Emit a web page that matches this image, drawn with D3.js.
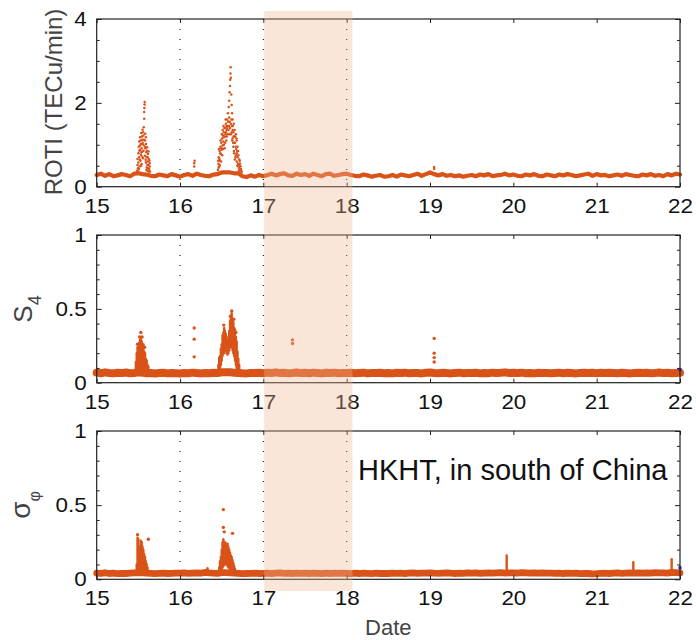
<!DOCTYPE html>
<html>
<head>
<meta charset="utf-8">
<script src="https://cdn.jsdelivr.net/npm/d3@7"></script>
<style>
  body { margin: 0; background: #fff; }
  svg { display: block; }
  text { font-family: "Liberation Sans", Arial, Helvetica, sans-serif; }
</style>
</head>
<body>
<svg id="chart" width="696" height="640"></svg>
<script>
// ---- sampling of the quiet-time baseline (days of the month) ----
const sampleStart = 15;
const sampleStep = 0.05;

// ROTI baseline (TECu/min), one value per sample
const rotiBase = [
  0.28,0.31,0.26,0.30,0.25,0.27,0.30,0.28,0.25,0.31,
  0.32,0.30,0.29,0.26,0.25,0.29,0.27,0.25,0.30,0.27,
  0.24,0.28,0.30,0.26,0.31,0.28,0.26,0.25,0.29,0.30,
  0.34,0.34,0.34,0.32,0.32,0.25,0.23,0.27,0.24,0.28,
  0.25,0.28,0.31,0.27,0.30,0.32,0.27,0.26,0.31,0.28,
  0.30,0.26,0.31,0.28,0.25,0.30,0.31,0.26,0.28,0.30,
  0.31,0.28,0.26,0.25,0.29,0.27,0.24,0.26,0.28,0.24,
  0.25,0.28,0.24,0.29,0.27,0.25,0.28,0.31,0.26,0.30,
  0.34,0.30,0.27,0.30,0.26,0.28,0.25,0.27,0.24,0.26,
  0.28,0.25,0.29,0.27,0.30,0.25,0.27,0.28,0.31,0.27,
  0.29,0.26,0.25,0.29,0.27,0.30,0.26,0.25,0.29,0.27,
  0.25,0.29,0.27,0.30,0.28,0.25,0.27,0.29,0.31,0.26,
  0.30,0.27,0.28,0.25,0.27,0.29,0.26,0.30,0.28,0.26,
  0.25,0.29,0.27,0.30,0.26,0.28,0.25,0.30,0.27,0.31,
  0.29
];

// S4 baseline
const s4Base = [
  .068,.064,.070,.066,.063,.067,.065,.069,.064,.066,
  .070,.068,.064,.066,.062,.065,.067,.063,.066,.064,
  .062,.066,.064,.068,.065,.063,.066,.064,.067,.065,
  .070,.070,.070,.068,.066,.064,.063,.066,.065,.067,
  .064,.068,.066,.070,.065,.067,.064,.066,.069,.065,
  .067,.064,.068,.066,.063,.067,.065,.068,.064,.066,
  .065,.067,.064,.066,.068,.063,.066,.065,.067,.064,
  .066,.063,.067,.065,.068,.064,.066,.065,.063,.067,
  .069,.066,.064,.067,.065,.063,.066,.068,.064,.066,
  .065,.067,.063,.066,.064,.068,.065,.067,.070,.066,
  .067,.065,.068,.064,.066,.063,.067,.065,.066,.064,
  .066,.068,.064,.067,.065,.063,.066,.068,.065,.067,
  .064,.067,.065,.068,.066,.064,.067,.065,.063,.066,
  .068,.065,.067,.064,.066,.069,.065,.067,.064,.066,
  .068
];

// sigma-phi baseline
const sigmaBase = [
  .042,.040,.044,.039,.041,.038,.040,.039,.041,.043,
  .045,.044,.042,.040,.038,.040,.041,.039,.040,.042,
  .041,.043,.040,.042,.044,.041,.046,.043,.041,.040,
  .045,.045,.044,.042,.040,.038,.039,.040,.041,.039,
  .040,.042,.039,.041,.043,.040,.041,.039,.042,.040,
  .041,.039,.042,.040,.038,.041,.039,.042,.040,.041,
  .040,.038,.041,.039,.042,.040,.038,.041,.039,.040,
  .039,.041,.040,.042,.039,.041,.043,.040,.042,.041,
  .043,.041,.040,.042,.044,.041,.039,.042,.040,.043,
  .041,.043,.040,.042,.044,.041,.043,.045,.042,.044,
  .044,.042,.045,.043,.041,.044,.042,.043,.041,.042,
  .040,.042,.039,.041,.040,.042,.038,.040,.039,.037,
  .038,.040,.042,.039,.041,.043,.040,.042,.044,.041,
  .043,.041,.044,.042,.045,.043,.044,.042,.046,.045,
  .044
];

// ROTI scintillation bursts: [day, value]
const rotiBurst = [
  // 15th, evening
  [15.485,0.38],[15.49,0.52],[15.49,0.66],[15.495,0.44],[15.50,0.80],[15.50,0.58],
  [15.505,0.95],[15.51,0.70],[15.51,1.08],[15.515,0.48],[15.52,0.88],[15.52,1.18],
  [15.525,0.62],[15.53,1.02],[15.53,0.76],[15.535,1.28],[15.54,0.92],[15.54,0.54],
  [15.545,1.12],[15.55,0.84],[15.55,1.36],[15.555,0.68],[15.56,1.00],[15.56,1.22],
  [15.565,1.42],[15.57,1.62],[15.57,1.78],[15.572,1.88],[15.575,1.96],[15.575,2.02],
  [15.58,1.10],[15.58,0.74],[15.585,0.92],[15.59,1.18],[15.59,0.58],[15.595,0.82],
  [15.60,0.46],[15.60,0.70],[15.605,0.94],[15.61,0.60],[15.61,0.38],[15.615,0.78],
  [15.62,0.52],[15.625,0.66],[15.63,0.42],[15.635,0.56],[15.64,0.36],
  [15.487,0.30],[15.497,0.36],[15.507,0.42],[15.512,0.86],[15.517,0.64],[15.522,0.98],
  [15.527,1.10],[15.532,0.50],[15.537,0.82],[15.542,1.20],[15.547,0.72],[15.552,1.05],
  [15.557,1.30],[15.562,0.86],[15.567,1.12],[15.577,0.96],[15.582,1.26],[15.587,0.64],
  [15.592,1.02],[15.597,0.40],[15.602,0.86],[15.607,0.52],[15.612,0.70],[15.617,0.44],
  [15.622,0.84],[15.627,0.36],[15.632,0.62],[15.637,0.48],
  // 16th, early
  [16.17,0.48],[16.17,0.56],[16.175,0.62],
  // 16th, evening
  [16.455,0.40],[16.46,0.55],[16.465,0.70],[16.47,0.48],[16.475,0.85],[16.48,0.62],
  [16.485,0.95],[16.49,0.78],[16.495,1.05],[16.50,0.88],[16.505,1.15],[16.51,0.98],
  [16.515,1.22],[16.52,1.08],[16.525,1.30],[16.53,1.18],[16.535,0.92],[16.54,1.40],
  [16.545,1.25],[16.55,1.50],[16.555,1.10],[16.56,1.35],[16.565,1.60],[16.57,1.45],
  [16.575,1.75],[16.58,1.55],[16.585,1.90],[16.59,1.65],[16.59,2.05],[16.595,2.25],
  [16.60,2.40],[16.60,1.40],[16.602,2.55],[16.605,2.70],[16.607,2.85],[16.61,2.60],
  [16.61,1.50],[16.615,2.20],[16.62,1.95],[16.62,1.30],[16.625,1.75],[16.63,1.60],
  [16.63,1.15],[16.635,1.45],[16.64,1.30],[16.64,0.95],[16.645,1.50],[16.65,1.20],
  [16.65,0.80],[16.655,1.35],[16.66,1.05],[16.665,0.70],[16.67,1.25],[16.675,0.90],
  [16.68,1.10],[16.68,0.60],[16.685,0.85],[16.69,0.95],[16.695,0.55],[16.70,0.75],
  [16.705,0.45],[16.71,0.65],[16.715,0.40],[16.72,0.55],[16.73,0.42],[16.74,0.35],
  [16.452,0.32],[16.457,0.62],[16.462,0.45],[16.467,0.90],[16.472,0.66],[16.477,0.52],
  [16.482,0.80],[16.487,1.10],[16.492,0.60],[16.497,0.92],[16.502,1.25],[16.507,0.75],
  [16.512,1.35],[16.517,0.90],[16.522,1.45],[16.527,1.00],[16.532,1.40],[16.537,1.20],
  [16.542,1.05],[16.547,1.60],[16.552,1.30],[16.557,1.45],[16.562,1.20],[16.567,1.40],
  [16.572,1.25],[16.577,1.55],[16.582,1.35],[16.587,1.45],[16.592,1.25],[16.597,1.55],
  [16.612,1.25],[16.617,1.60],[16.622,1.45],[16.627,1.10],[16.632,1.35],[16.637,1.05],
  [16.642,1.20],[16.647,0.85],[16.652,1.05],[16.657,0.65],[16.662,1.20],[16.667,0.95],
  [16.672,0.75],[16.677,1.15],[16.682,0.80],[16.687,0.50],[16.692,0.70],[16.697,0.85],
  [16.702,0.55],[16.707,0.38],[16.712,0.50],[16.717,0.62],[16.722,0.40],[16.727,0.48],
  [16.735,0.38],
  // 19th
  [19.05,0.42],[19.05,0.47]
];

// S4 bursts as [day, low, high] spreads
const s4Spread = [
  [15.47,0.07,0.14],[15.48,0.07,0.20],[15.49,0.08,0.24],[15.50,0.08,0.21],
  [15.51,0.09,0.27],[15.52,0.10,0.29],[15.53,0.12,0.30],[15.54,0.10,0.28],
  [15.55,0.12,0.25],[15.56,0.10,0.26],[15.57,0.09,0.21],[15.58,0.08,0.20],
  [15.59,0.08,0.16],[15.60,0.07,0.15],[15.61,0.07,0.12],[15.62,0.07,0.11],
  [16.46,0.07,0.12],[16.47,0.08,0.17],[16.48,0.10,0.18],[16.49,0.12,0.23],
  [16.50,0.15,0.26],[16.51,0.18,0.32],[16.52,0.20,0.34],[16.53,0.20,0.37],
  [16.54,0.22,0.35],[16.55,0.22,0.33],[16.56,0.20,0.29],[16.57,0.19,0.26],
  [16.58,0.20,0.31],[16.59,0.22,0.35],[16.60,0.24,0.42],[16.61,0.25,0.45],
  [16.62,0.24,0.47],[16.63,0.22,0.42],[16.64,0.20,0.41],[16.65,0.18,0.37],
  [16.66,0.15,0.36],[16.67,0.12,0.31],[16.68,0.10,0.28],[16.69,0.09,0.21],
  [16.70,0.08,0.16],[16.71,0.07,0.12]
];
// isolated S4 readings: [day, value]
const s4Points = [
  [15.53,0.34],[15.515,0.31],[15.545,0.31],[15.49,0.26],[15.575,0.24],
  [16.17,0.37],[16.17,0.295],[16.17,0.175],
  [16.525,0.39],[16.605,0.45],[16.62,0.485],[16.645,0.43],[16.67,0.34],
  [17.35,0.29],[17.35,0.265],
  [19.05,0.30],[19.05,0.20],[19.05,0.17],[19.05,0.14]
];

// sigma-phi bursts as [day, low, high] spreads
const sigmaSpread = [
  [15.48,0.04,0.10],[15.49,0.05,0.28],[15.50,0.06,0.27],[15.51,0.07,0.22],
  [15.52,0.06,0.20],[15.53,0.08,0.26],[15.54,0.07,0.25],[15.55,0.08,0.22],
  [15.56,0.06,0.20],[15.57,0.06,0.17],[15.58,0.05,0.15],[15.59,0.05,0.12],
  [15.60,0.05,0.10],[15.61,0.04,0.08],
  [16.33,0.04,0.075],
  [16.47,0.04,0.08],[16.48,0.05,0.12],[16.49,0.06,0.15],[16.50,0.07,0.20],
  [16.51,0.08,0.25],[16.52,0.09,0.27],[16.53,0.10,0.24],[16.54,0.10,0.25],
  [16.55,0.12,0.24],[16.56,0.10,0.22],[16.57,0.09,0.24],[16.58,0.08,0.22],
  [16.59,0.08,0.20],[16.60,0.07,0.18],[16.61,0.07,0.16],[16.62,0.06,0.15],
  [16.63,0.06,0.13],[16.64,0.05,0.11],[16.65,0.05,0.09],[16.66,0.04,0.07],
  [19.92,0.05,0.16],[21.44,0.05,0.115],[21.90,0.05,0.135]
];
// isolated sigma-phi readings: [day, value]
const sigmaPoints = [
  [15.49,0.30],[15.62,0.27],[16.52,0.47],[16.52,0.35],[16.53,0.32],[16.63,0.31]
];

// last sample of the day-22 record (second receiver channel)
const s4Last = [[22.0, 0.09]];
const sigmaLast = [[22.0, 0.078]];

// axis ticks and labels
const dayTicks = [15, 16, 17, 18, 19, 20, 21, 22];
const dayGuides = [16, 17, 18];
const rotiTicks = [0, 2, 4];
const rotiMinor = [0.5, 1, 1.5, 2.5, 3, 3.5];
const unitTicks = [0, 0.5, 1];
const unitMinor = [0.1, 0.2, 0.3, 0.4, 0.6, 0.7, 0.8, 0.9];

// highlighted interval (days)
const highlight = [17.01, 18.07];

const stationLabel = "HKHT, in south of China";

// ---- drawing ----
const orange = "#D95319";
const svg = d3.select("#chart");
const plotLeft = 96.7, plotRight = 680;
const x = d3.scaleLinear().domain([15, 22]).range([plotLeft, plotRight]);

const panels = [
  { top: 19, bottom: 186.7, domain: [0, 4], major: rotiTicks, minor: rotiMinor,
    base: rotiBase, band: 4.2, spread: [], points: rotiBurst, r: 1.25, last: [] },
  { top: 235, bottom: 382.7, domain: [0, 1], major: unitTicks, minor: unitMinor,
    base: s4Base, band: 8, spread: s4Spread, points: s4Points, r: 1.7, last: s4Last },
  { top: 431, bottom: 579.3, domain: [0, 1], major: unitTicks, minor: unitMinor,
    base: sigmaBase, band: 6.8, spread: sigmaSpread, points: sigmaPoints, r: 1.7, last: sigmaLast }
];

const fmt = d => String(d);

panels.forEach(p => {
  const y = d3.scaleLinear().domain(p.domain).range([p.bottom, p.top]);
  const g = svg.append("g");

  // dotted day separators
  g.selectAll("line.guide").data(dayGuides).join("line")
    .attr("x1", d => x(d)).attr("x2", d => x(d))
    .attr("y1", p.top).attr("y2", p.bottom)
    .attr("stroke", "#111").attr("stroke-width", 1.1)
    .attr("stroke-dasharray", "1.1,8.9");

  // baseline trace
  const line = d3.line()
    .x((d, i) => x(sampleStart + i * sampleStep))
    .y(d => y(d));
  g.append("path").datum(p.base)
    .attr("d", line)
    .attr("fill", "none").attr("stroke", orange)
    .attr("stroke-width", p.band)
    .attr("stroke-linejoin", "round").attr("stroke-linecap", "round");

  // burst spreads
  g.selectAll("line.spread").data(p.spread).join("line")
    .attr("x1", d => x(d[0])).attr("x2", d => x(d[0]))
    .attr("y1", d => y(d[1])).attr("y2", d => y(d[2]))
    .attr("stroke", orange).attr("stroke-width", 2.4)
    .attr("stroke-linecap", "round");

  // individual readings
  g.selectAll("circle.pt").data(p.points).join("circle")
    .attr("cx", d => x(d[0])).attr("cy", d => y(d[1]))
    .attr("r", p.r).attr("fill", orange);

  g.selectAll("rect.last").data(p.last).join("rect")
    .attr("x", d => x(d[0]) - 1.5).attr("y", d => y(d[1]) - 1.5)
    .attr("width", 3).attr("height", 3).attr("fill", "#1a22c8");

  // axes with inward ticks
  const axStyle = sel => {
    sel.select(".domain").remove();
    sel.selectAll(".tick line").attr("stroke", "#222");
    sel.selectAll(".tick text").attr("fill", "#111")
      .attr("transform", "scale(1.12,1)")
      .style("font-family", '"Liberation Sans", Arial, sans-serif')
      .style("font-size", "20px");
  };
  g.append("g").attr("transform", `translate(${plotLeft},0)`)
    .call(d3.axisLeft(y).tickValues(p.major).tickSize(-5).tickPadding(9).tickFormat(fmt))
    .call(axStyle);
  g.append("g").attr("transform", `translate(${plotLeft},0)`)
    .call(d3.axisLeft(y).tickValues(p.minor).tickSize(-3).tickFormat(""))
    .call(axStyle);
  g.append("g").attr("transform", `translate(${plotRight},0)`)
    .call(d3.axisRight(y).tickValues(p.major).tickSize(-5).tickFormat(""))
    .call(axStyle);
  g.append("g").attr("transform", `translate(${plotRight},0)`)
    .call(d3.axisRight(y).tickValues(p.minor).tickSize(-3).tickFormat(""))
    .call(axStyle);
  g.append("g").attr("transform", `translate(0,${p.bottom})`)
    .call(d3.axisBottom(x).tickValues(dayTicks).tickSize(-4).tickPadding(12).tickFormat(fmt))
    .call(axStyle);
  g.append("g").attr("transform", `translate(0,${p.top})`)
    .call(d3.axisTop(x).tickValues(dayTicks).tickSize(-4).tickFormat(""))
    .call(axStyle);

  // frame
  g.append("rect")
    .attr("x", plotLeft).attr("y", p.top)
    .attr("width", plotRight - plotLeft).attr("height", p.bottom - p.top)
    .attr("fill", "none").attr("stroke", "#222").attr("stroke-width", 1.2);
});

// highlighted interval, laid over all three panels
svg.append("rect")
  .attr("x", x(highlight[0])).attr("width", x(highlight[1]) - x(highlight[0]))
  .attr("y", 11).attr("height", 580)
  .attr("fill", "rgb(241,181,146)").attr("fill-opacity", 0.35);

// axis titles
const titleColor = "#444";
svg.append("text")
  .attr("transform", "translate(61.5,102) rotate(-90)")
  .attr("text-anchor", "middle").attr("fill", titleColor)
  .style("font-size", "24px")
  .text("ROTI (TECu/min)");

const s4Title = svg.append("text")
  .attr("transform", "translate(31.5,309) rotate(-90)")
  .attr("text-anchor", "middle").attr("fill", titleColor)
  .style("font-size", "26px");
s4Title.append("tspan").text("S");
s4Title.append("tspan").attr("dy", 9).style("font-size", "18px").text("4");

const sigTitle = svg.append("text")
  .attr("transform", "translate(30,505) rotate(-90)")
  .attr("text-anchor", "middle").attr("fill", titleColor)
  .style("font-size", "28px");
sigTitle.append("tspan").text("σ");
sigTitle.append("tspan").attr("dy", 10).style("font-size", "16px").text("φ");

svg.append("text")
  .attr("x", x(18.5)).attr("y", 635)
  .attr("text-anchor", "middle").attr("fill", titleColor)
  .style("font-size", "22px")
  .text("Date");

svg.append("text")
  .attr("x", 358).attr("y", 480)
  .attr("fill", "#111")
  .style("font-size", "29px")
  .text(stationLabel);
</script>
</body>
</html>
